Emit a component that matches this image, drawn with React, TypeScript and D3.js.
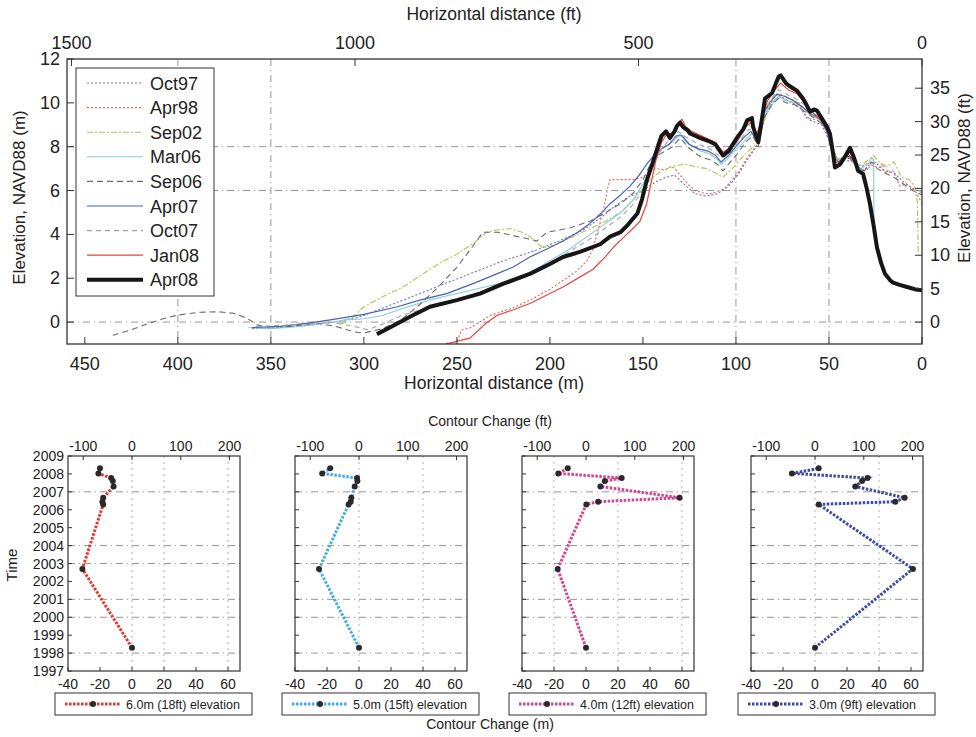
import React from "react";
import * as d3 from "d3";

type P = [number, number];

const seriesNames = ["Oct97", "Apr98", "Sep02", "Mar06", "Sep06", "Apr07", "Oct07", "Jan08", "Apr08"];

const oct97: P[] = [[360,-0.3],[345,-0.25],[330,-0.15],[315,0.0],[300,0.3],[285,0.8],[270,1.3],[255,1.8],[240,2.3],[225,2.8],[210,3.2],[195,3.7],[182,4.2],[172,4.8],[165,5.3],[158,5.7],[150,6.0],[143,6.4],[138,6.6],[133,6.7],[128,6.3],[122,5.85],[116,5.75],[110,5.85],[104,6.2],[99,6.7],[94,7.4],[89,8.0],[85,9.3],[80,10.0],[77,10.3],[72,10.1],[66,9.8],[60,9.2],[54,9.0],[50,8.3],[46,7.5],[42,7.4],[37,7.3],[32,7.1],[28,7.3],[24,7.2],[20,6.9],[15,6.8],[10,6.4],[5,6.1],[0,5.9]];
const apr98: P[] = [[256,-0.97],[250,-0.9],[247.5,-0.36],[243,-0.27],[232,0.3],[220,0.65],[210.8,1.0],[200,1.5],[193,1.9],[186,2.3],[180,2.8],[177,3.3],[174.7,4.0],[171,5.2],[169,6.1],[167.7,6.5],[160,6.5],[155,6.5],[150,6.6],[146,6.9],[143,7.0],[138,6.95],[135,7.1],[132.8,7.0],[130,6.7],[126,6.3],[122,6.0],[118,5.9],[114,5.85],[110,5.95],[106,6.1],[102,6.5],[99,6.8],[96,7.2],[94,7.5],[91,7.8],[88.7,8.1],[86,9.0],[84.4,9.6],[80,10.2],[77.4,10.4],[74,10.2],[70,10.0],[65.6,9.85],[62,9.3],[58,9.25],[55,9.2],[52,8.8],[49.5,8.1],[47,7.6],[44,7.36],[40,7.5],[37,7.3],[34,7.0],[31.7,6.9],[28,7.2],[25,7.1],[22.6,7.05],[19,6.8],[15.6,6.9],[11.8,6.2],[9,6.3],[6.5,6.2],[3,5.9],[0,5.4]];
const sep02: P[] = [[312,-0.1],[305,0.3],[300,0.7],[290,1.15],[279,1.6],[270,2.1],[259,2.7],[250,3.1],[241,3.6],[234,4.1],[228,4.2],[221.5,4.27],[215,4.1],[210.8,3.9],[204,3.4],[198,3.5],[190,3.8],[180,4.2],[170,4.6],[162,5.0],[156,5.5],[150,6.1],[145,6.6],[140,6.9],[134,7.1],[128,7.2],[122,7.1],[116,7.0],[111,6.8],[107,6.6],[102,7.0],[97,7.5],[92,7.9],[88,8.2],[84,9.4],[80,10.0],[76,10.4],[71,10.2],[66,10.0],[61,9.5],[56,9.3],[51,8.8],[48,7.9],[45,7.4],[41,7.6],[37,7.4],[33,7.1],[29,7.4],[26,7.6],[23,7.3],[19,7.1],[15,7.3],[11,6.6],[7,6.5],[4,6.2],[2.5,5.5],[2,3.1]];
const mar06: P[] = [[362,-0.25],[350,-0.3],[335,-0.2],[320,-0.05],[310,0.1],[300,0.15],[290,0.3],[280,0.6],[265,1.0],[250,1.3],[235,1.6],[220,1.9],[210,2.3],[200,2.8],[190,3.3],[180,3.9],[170,4.5],[162,5.0],[155,5.6],[150,6.3],[146,7.0],[142,7.6],[139,8.0],[136,8.1],[133,8.3],[130,8.6],[127,8.2],[123,8.0],[119,7.8],[115,7.7],[111,7.5],[108,7.2],[105,7.4],[101,7.8],[97,8.1],[94,8.4],[91,8.6],[88,8.2],[85,9.4],[81,10.0],[77,10.3],[73,10.1],[68,10.0],[63,9.7],[59,9.4],[54,9.2],[50,8.5],[47,7.4],[44,7.4],[40,7.6],[37,7.3],[33,7.0],[29,7.2],[27,7.5],[26,7.4],[25.8,4.0]];
const sep06: P[] = [[435,-0.6],[425,-0.35],[417,-0.1],[408,0.15],[400,0.32],[388,0.45],[378,0.47],[370,0.4],[363,0.18],[357,-0.14],[352,-0.22],[340,-0.2],[325,-0.05],[315,-0.2],[305,-0.45],[300,-0.5],[290,-0.3],[280,0.1],[270,0.8],[260,1.6],[250,2.5],[242,3.4],[236,4.1],[228,4.1],[220,3.95],[212,3.8],[207,3.7],[201.6,4.1],[195,4.2],[189,4.3],[178.5,4.6],[170,5.0],[162,5.4],[155,5.9],[150,6.5],[146,7.2],[142,7.6],[138,7.8],[134,8.0],[130,8.4],[126,8.0],[122,7.7],[118,7.5],[114,7.4],[110,7.2],[107,6.9],[103,7.3],[99,7.7],[95,8.2],[91,8.5],[88,8.0],[85,9.3],[81,9.9],[77,10.2],[73,10.0],[68,9.9],[63,9.6],[58,9.3],[53,9.0],[49,8.3],[46,7.3],[43,7.3],[39,7.5],[35,7.1],[31,6.9],[27,7.3],[24,7.0],[20,6.8],[15,6.6],[10,6.3],[5,6.0],[0,5.8]];
const apr07: P[] = [[360,-0.25],[345,-0.2],[330,-0.05],[318,0.1],[300,0.35],[282,0.7],[270,1.0],[255.5,1.3],[240,1.8],[228.6,2.2],[220,2.5],[210.8,2.97],[200,3.4],[193,3.7],[185,4.1],[178.5,4.5],[172,5.0],[167.7,5.4],[162,5.8],[157,6.2],[152,6.7],[148,7.2],[144,7.6],[140,7.9],[136,8.1],[132,8.5],[129,8.5],[125,8.1],[120,7.9],[115,7.8],[111,7.6],[108,7.3],[104,7.6],[100,8.0],[96,8.4],[92,8.7],[89,8.3],[86,9.4],[82,10.0],[78,10.4],[74,10.3],[69,10.1],[64,9.8],[60,9.5],[55,9.3],[51,8.7],[48,7.6],[45,7.3],[41,7.6],[38,7.5],[35,7.1],[31,6.9]];
const oct07: P[] = [[358,-0.2],[345,-0.15],[330,-0.1],[318,0.0],[305,-0.2],[298,-0.35],[290,-0.1],[280,0.3],[268,0.6],[255,0.9],[240,1.3],[225,1.7],[210,2.3],[200,2.7],[190,3.2],[180,3.7],[170,4.3],[162,4.8],[156,5.3],[151,5.9],[147,6.6],[143,7.4],[140,7.9],[137,8.2],[134,8.3],[131,8.7],[128,8.5],[124,8.3],[120,8.1],[116,8.0],[112,7.8],[108,7.5],[105,7.6],[101,8.0],[97,8.4],[93,8.8],[90,8.7],[88,8.1],[85,9.6],[81,10.2],[77,10.6],[73,10.4],[68,10.2],[63,9.9],[58,9.5],[54,9.3],[50,8.6],[47,7.4],[44,7.4],[40,7.8],[37,7.5],[34,7.0],[30,6.9],[26,7.3],[22,7.2],[18,6.9]];
const jan08: P[] = [[256,-1.0],[243,-0.73],[235,-0.1],[228.6,0.3],[220,0.55],[210.8,0.85],[200,1.3],[193,1.6],[184,2.05],[177,2.4],[170,3.0],[166,3.4],[160,3.9],[155,4.3],[151.6,4.6],[148,5.4],[145,6.6],[143,7.4],[140,8.2],[137,8.6],[134,8.6],[131,9.1],[129,9.25],[127,8.9],[124,8.7],[120,8.55],[115,8.35],[111,8.2],[107,7.75],[104,7.9],[99,8.3],[95,8.9],[92,9.1],[89,8.5],[86,9.3],[83,10.1],[79,10.6],[76,10.9],[72,10.6],[67,10.4],[63,10.0],[58,9.5],[53,9.1],[49,8.4],[47,7.3],[44,7.3],[40,7.7],[37,7.4],[34,6.9]];
const apr08: P[] = [[293,-0.55],[285,-0.2],[275,0.25],[264.5,0.7],[250,1.0],[237.6,1.3],[225,1.75],[210.8,2.2],[200,2.65],[193,2.97],[183.9,3.2],[173,3.55],[167.7,3.9],[162,4.1],[158,4.45],[153,4.95],[150.5,5.6],[148,6.45],[145,7.2],[142,8.0],[140,8.5],[137.6,8.7],[135.5,8.4],[133,8.7],[131.7,8.95],[130,9.1],[128.5,8.9],[126,8.75],[124.7,8.6],[122,8.5],[119.4,8.4],[115,8.27],[111,8.1],[108.6,7.8],[107,7.6],[104,7.8],[101,8.2],[99.5,8.4],[96,8.8],[94,9.2],[91.4,9.3],[90.8,8.9],[88,8.2],[86,9.3],[84.4,10.2],[80.6,10.45],[78.5,10.9],[77,11.2],[76,11.25],[74,11.0],[72.6,10.85],[70,10.7],[67.2,10.55],[64,10.2],[62,9.9],[60.2,9.6],[58,9.7],[56.5,9.65],[53.2,9.2],[51,8.9],[49.5,8.6],[48,7.8],[46.8,7.05],[44,7.2],[41,7.6],[38.7,7.95],[37,7.6],[36,7.36],[34.4,6.9],[31.7,6.77],[30,6.2],[28,5.4],[26,4.4],[24.2,3.4],[22,2.7],[19.9,2.2],[17,1.9],[15.6,1.8],[12,1.7],[8,1.6],[4,1.5],[0,1.45]];

const seriesData: P[][] = [oct97, apr98, sep02, mar06, sep06, apr07, oct07, jan08, apr08];
const seriesColors = ["#6e72bd", "#e8625a", "#b9c44e", "#86cbe4", "#6a6a6a", "#4a62ae", "#a4a4a4", "#e5453c", "#161616"];
const seriesDash = ["2,2", "2,2", "6,2,2,2", "", "6,4", "", "5,4", "", ""];
const seriesWidth = [1.1, 1.1, 1.1, 1.1, 1.1, 1.2, 1.1, 1.2, 4];

const mTicks = [450, 400, 350, 300, 250, 200, 150, 100, 50, 0];
const ftTicksTop = [1500, 1000, 500, 0];
const elevTicks = [0, 2, 4, 6, 8, 10, 12];
const elevFtTicks = [0, 5, 10, 15, 20, 25, 30, 35];
const vGrid = [400, 350, 100, 50];
const hGrid = [0, 6, 8];

// Bottom panels
const years = [1998.3, 2002.7, 2006.3, 2006.45, 2006.67, 2007.3, 2007.6, 2007.77, 2008.03, 2008.31];
const change6m = [0, -31, -18, -18.5, -18, -11.5, -12, -13, -21, -20];
const change5m = [0, -25, -6.5, -5.2, -4.8, -2.7, -1, -1.2, -23, -18];
const change4m = [0, -17.7, 0.2, 7.6, 58.5, 9, 11.8, 22.3, -17.3, -11.4];
const change3m = [0, 61.2, 2.3, 50.2, 56, 25.2, 29.4, 32.9, -14.4, 2.3];
const panelLabels = ["6.0m (18ft) elevation", "5.0m (15ft) elevation", "4.0m (12ft) elevation", "3.0m (9ft) elevation"];
const panelValues = [change6m, change5m, change4m, change3m];
const panelColors = ["#e8352c", "#45aee0", "#d8428f", "#3d4aa6"];
const panelVGrid = [[0, 20, 60], [0, 40], [-20, 20, 60], [0, 40]];
const yearTicks = d3.range(1997, 2010);
const yearGrid = [2007, 2004, 2003, 2001, 2000, 1998];
const mChangeTicks = [-40, -20, 0, 20, 40, 60];
const ftChangeTicks = [-100, 0, 100, 200];

const FONT = "'Liberation Sans', Arial, sans-serif";

function TopChart() {
  const left = 67, right = 922, top = 59, bottom = 344;
  const x = d3.scaleLinear().domain([459.6, 0]).range([left, right]);
  const y = d3.scaleLinear().domain([-1, 12]).range([bottom, top]);
  const yFt = d3.scaleLinear().domain([-1 / 0.3048, 12 / 0.3048]).range([bottom, top]);
  const xFt = d3.scaleLinear().domain([459.6 / 0.3048, 0]).range([left, right]);
  const line = d3.line<P>().x((p) => x(p[0])).y((p) => y(p[1]));
  const legX = 76, legY = 68, legW = 138, legH = 228;
  return (
    <g fontFamily={FONT}>
      <defs>
        <clipPath id="topclip"><rect x={left} y={top} width={right - left} height={bottom - top} /></clipPath>
      </defs>
      {hGrid.map((v) => (
        <line key={"hg" + v} x1={left} x2={right} y1={y(v)} y2={y(v)} stroke="#8a8a8a" strokeWidth={0.9} strokeDasharray="7,4,1,4" />
      ))}
      {vGrid.map((v) => (
        <line key={"vg" + v} x1={x(v)} x2={x(v)} y1={top} y2={bottom} stroke="#8a8a8a" strokeWidth={0.9} strokeDasharray="7,4,1,4" />
      ))}
      <g clipPath="url(#topclip)">
        {seriesData.map((s, i) => (
          <path key={seriesNames[i]} d={line(s) || ""} fill="none" stroke={seriesColors[i]} strokeWidth={seriesWidth[i]} strokeDasharray={seriesDash[i] || undefined} strokeLinejoin="round" />
        ))}
      </g>
      <rect x={left} y={top} width={right - left} height={bottom - top} fill="none" stroke="#333" strokeWidth={1.3} />
      {mTicks.map((t) => (
        <g key={"mt" + t}>
          <line x1={x(t)} x2={x(t)} y1={bottom} y2={bottom - 7} stroke="#333" />
          <text x={x(t)} y={bottom + 26} fontSize={18} textAnchor="middle" fill="#222">{t}</text>
        </g>
      ))}
      {ftTicksTop.map((t) => (
        <g key={"ft" + t}>
          <line x1={xFt(t)} x2={xFt(t)} y1={top} y2={top + 7} stroke="#333" />
          <text x={xFt(t)} y={top - 10} fontSize={18} textAnchor="middle" fill="#222">{t}</text>
        </g>
      ))}
      {elevTicks.map((t) => (
        <g key={"et" + t}>
          <line x1={left} x2={left + 7} y1={y(t)} y2={y(t)} stroke="#333" />
          <text x={left - 7} y={y(t) + 6} fontSize={18} textAnchor="end" fill="#222">{t}</text>
        </g>
      ))}
      {elevFtTicks.map((t) => (
        <g key={"eft" + t}>
          <line x1={right - 7} x2={right} y1={yFt(t)} y2={yFt(t)} stroke="#333" />
          <text x={right + 8} y={yFt(t) + 6} fontSize={18} textAnchor="start" fill="#222">{t}</text>
        </g>
      ))}
      <text x={494} y={20} fontSize={17.5} textAnchor="middle" fill="#222">Horizontal distance (ft)</text>
      <text x={494} y={389} fontSize={17.5} textAnchor="middle" fill="#222">Horizontal distance (m)</text>
      <text transform={`translate(25,${(top + bottom) / 2 - 4}) rotate(-90)`} fontSize={17} textAnchor="middle" fill="#222">Elevation, NAVD88 (m)</text>
      <text transform={`translate(970,${178}) rotate(-90)`} fontSize={17} textAnchor="middle" fill="#222">Elevation, NAVD88 (ft)</text>
      <rect x={legX} y={legY} width={legW} height={legH} fill="#fff" stroke="#333" strokeWidth={1} />
      {seriesNames.map((n, i) => {
        const ly = legY + 15 + i * 24.6;
        return (
          <g key={"lg" + n}>
            <line x1={legX + 11} x2={legX + 67} y1={ly} y2={ly} stroke={seriesColors[i]} strokeWidth={seriesWidth[i]} strokeDasharray={seriesDash[i] || undefined} />
            <text x={legX + 74} y={ly + 6.5} fontSize={18} fill="#222">{n}</text>
          </g>
        );
      })}
    </g>
  );
}

function Panel({ idx, left }: { idx: number; left: number }) {
  const width = 172, top = 456, bottom = 671;
  const x = d3.scaleLinear().domain([-40, 67.5]).range([left, left + width]);
  const xFt = d3.scaleLinear().domain([-40 / 0.3048, 67.5 / 0.3048]).range([left, left + width]);
  const y = d3.scaleLinear().domain([1997, 2009]).range([bottom, top]);
  const vals = panelValues[idx];
  const pts: P[] = vals.map((v, i) => [v, years[i]]);
  const line = d3.line<P>().x((p) => x(p[0])).y((p) => y(p[1]));
  const color = panelColors[idx];
  const lx = left - 13, ly = 693, lw = 197, lh = 22;
  return (
    <g fontFamily={FONT}>
      {yearGrid.map((g) => (
        <line key={"yg" + g} x1={left} x2={left + width} y1={y(g)} y2={y(g)} stroke="#7a7a7a" strokeWidth={0.8} strokeDasharray="7,4,1,4" />
      ))}
      {panelVGrid[idx].map((g) => (
        <line key={"vg" + g} x1={x(g)} x2={x(g)} y1={top} y2={bottom} stroke="#a0a0a0" strokeWidth={0.8} strokeDasharray="2,4" />
      ))}
      <path d={line(pts) || ""} fill="none" stroke={color} strokeWidth={3} strokeDasharray="2.5,1.5" />
      {pts.map((p, i) => (
        <circle key={i} cx={x(p[0])} cy={y(p[1])} r={3} fill="#2a2a2a" />
      ))}
      <rect x={left} y={top} width={width} height={bottom - top} fill="none" stroke="#333" strokeWidth={1.2} />
      {yearTicks.map((t) => (
        <g key={"yt" + t}>
          <line x1={left} x2={left + 4} y1={y(t)} y2={y(t)} stroke="#333" />
          {idx === 0 && <text x={left - 4} y={y(t) + 5} fontSize={14} textAnchor="end" fill="#222">{t}</text>}
        </g>
      ))}
      {mChangeTicks.map((t) => (
        <g key={"mc" + t}>
          <line x1={x(t)} x2={x(t)} y1={bottom} y2={bottom - 4} stroke="#333" />
          <text x={x(t)} y={bottom + 18} fontSize={14} textAnchor="middle" fill="#222">{t}</text>
        </g>
      ))}
      {ftChangeTicks.map((t) => (
        <g key={"fc" + t}>
          <line x1={xFt(t)} x2={xFt(t)} y1={top} y2={top + 4} stroke="#333" />
          <text x={xFt(t)} y={top - 5} fontSize={14} textAnchor="middle" fill="#222">{t}</text>
        </g>
      ))}
      <rect x={lx} y={ly} width={lw} height={lh} fill="#fff" stroke="#333" strokeWidth={1} />
      <line x1={lx + 10} x2={lx + 66} y1={ly + 11} y2={ly + 11} stroke={color} strokeWidth={3} strokeDasharray="2.5,1.5" />
      <circle cx={lx + 38} cy={ly + 11} r={3} fill="#2a2a2a" />
      <text x={lx + 71} y={ly + 15.5} fontSize={12.5} fill="#222">{panelLabels[idx]}</text>
    </g>
  );
}

export default function App() {
  const lefts = [68, 295, 522, 751];
  return (
    <svg width={976} height={737} viewBox="0 0 976 737" style={{ position: "absolute", left: 0, top: 0, background: "#fff" }}>
      <rect width={976} height={737} fill="#fff" />
      <TopChart />
      {lefts.map((l, i) => (
        <Panel key={i} idx={i} left={l} />
      ))}
      <text x={490} y={426} fontSize={14} textAnchor="middle" fontFamily={FONT} fill="#222">Contour Change (ft)</text>
      <text x={490} y={729} fontSize={14} textAnchor="middle" fontFamily={FONT} fill="#222">Contour Change (m)</text>
      <text transform="translate(17,565) rotate(-90)" fontSize={15} textAnchor="middle" fontFamily={FONT} fill="#222">Time</text>
    </svg>
  );
}
